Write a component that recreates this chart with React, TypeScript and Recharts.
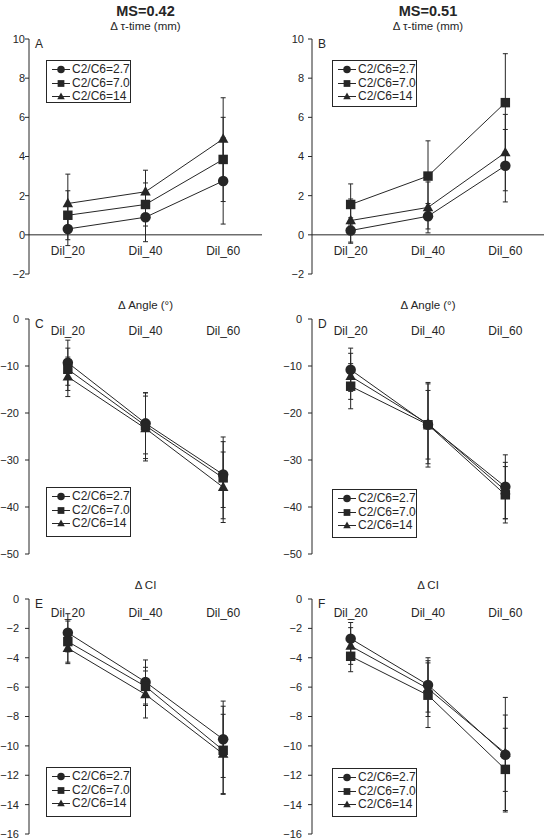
import React from "react";
import {
  ErrorBar,
  Legend,
  Line,
  LineChart,
  ReferenceDot,
  ReferenceLine,
  XAxis,
  YAxis,
} from "recharts";

const categories = ["Dil_20", "Dil_40", "Dil_60"];
const seriesNames = ["C2/C6=2.7", "C2/C6=7.0", "C2/C6=14"];

// each row follows seriesNames, each column follows categories
const tauMs042 = [
  [0.3, 0.9, 2.75],
  [1.0, 1.55, 3.85],
  [1.6, 2.2, 4.9],
];
const tauMs042Err = [
  [0.85, 1.25, 2.2],
  [1.25, 1.1, 2.15],
  [1.5, 1.1, 2.1],
];
const tauMs051 = [
  [0.22, 0.95, 3.53],
  [1.55, 3.0, 6.75],
  [0.73, 1.4, 4.2],
];
const tauMs051Err = [
  [0.65, 0.65, 1.85],
  [1.05, 1.8, 2.5],
  [1.1, 1.3, 1.95],
];
const angleMs042 = [
  [-9.3, -22.2, -33.1],
  [-10.7, -22.7, -33.8],
  [-12.3, -23.3, -35.8],
];
const angleMs042Err = [
  [4.8, 6.5, 7.0],
  [4.5, 7.0, 8.7],
  [4.2, 6.9, 7.5],
];
const angleMs051 = [
  [-10.8, -22.5, -35.7],
  [-14.3, -22.5, -37.4],
  [-12.2, -22.3, -36.5],
];
const angleMs051Err = [
  [4.6, 9.0, 6.8],
  [4.8, 7.3, 6.0],
  [4.9, 8.5, 6.0],
];
const ciMs042 = [
  [-2.3, -5.65, -9.55],
  [-2.9, -5.95, -10.3],
  [-3.35, -6.5, -10.55],
];
const ciMs042Err = [
  [1.3, 1.5, 2.6],
  [1.4, 1.3, 3.0],
  [1.05, 1.6, 2.7],
];
const ciMs051 = [
  [-2.7, -5.85, -10.6],
  [-3.9, -6.55, -11.6],
  [-3.2, -6.1, -10.5],
];
const ciMs051Err = [
  [1.1, 1.85, 3.9],
  [1.05, 2.2, 2.8],
  [1.25, 1.9, 2.6],
];

const tauTicks = [-2, 0, 2, 4, 6, 8, 10];
const angleTicks = [-50, -40, -30, -20, -10, 0];
const ciTicks = [-16, -14, -12, -10, -8, -6, -4, -2, 0];

const ink = "#262626";
const font = '"Liberation Sans", Arial, sans-serif';
const shapes = ["circle", "square", "triangle"];
// triangles first, squares last so they sit on top where points overlap
const drawOrder = [2, 0, 1];

const PANEL_W = 277;
const PANEL_H = 280;
const axisX = [29, 35];
const rightPad = [15, 10];
const legendLeft = [46, 55];

function Marker({ shape, cx, cy, s }: { shape: string; cx: number; cy: number; s: number }) {
  if (shape === "circle") return <circle cx={cx} cy={cy} r={s / 2} fill={ink} />;
  if (shape === "square")
    return <rect x={cx - s * 0.45} y={cy - s * 0.45} width={s * 0.9} height={s * 0.9} fill={ink} />;
  const h = s * 0.9;
  return (
    <polygon
      points={`${cx},${cy - h * 0.6} ${cx - s / 2},${cy + h * 0.4} ${cx + s / 2},${cy + h * 0.4}`}
      fill={ink}
    />
  );
}

const fmt = (v: number) => (v < 0 ? `\u2212${Math.abs(v)}` : `${v}`);

type PanelProps = {
  values: number[][];
  errors: number[][];
  ticks: number[];
  col: number;
  row: number;
  letter: string;
  heading: string;
  title?: string;
  zeroLine: boolean;
  labelOffset: number;
  tickGap: number;
  legendTop: number;
  legendHeight: number;
};

function Panel(p: PanelProps) {
  const rows = categories.map((name, i) => {
    const r: Record<string, number | string> = { name };
    p.values.forEach((v, k) => {
      r[`s${k}`] = v[i];
      r[`e${k}`] = p.errors[k][i];
    });
    return r;
  });
  const left = p.col * PANEL_W;
  const top = p.row * PANEL_H;
  const plotMid = (axisX[p.col] + PANEL_W - rightPad[p.col]) / 2;

  const legendContent = (props: any) => {
    const items = [...(props.payload ?? [])].sort((a, b) =>
      String(a.dataKey).localeCompare(String(b.dataKey))
    );
    return (
      <div
        style={{
          border: `1px solid ${ink}`,
          background: "#fff",
          width: 85,
          height: p.legendHeight,
          boxSizing: "border-box",
          padding: "2px 0 0 5px",
          fontFamily: font,
        }}
      >
        {items.map((it: any) => {
          const k = Number(String(it.dataKey).slice(1));
          return (
            <div key={it.dataKey} style={{ display: "flex", alignItems: "center", height: 13.5 }}>
              <svg width={20} height={13} style={{ display: "block" }}>
                <line x1={0} x2={18} y1={6.5} y2={6.5} stroke={ink} strokeWidth={1} />
                <Marker shape={shapes[k]} cx={9} cy={6.5} s={7.5} />
              </svg>
              <span style={{ fontSize: 12, lineHeight: "13.5px", color: ink }}>{it.value}</span>
            </div>
          );
        })}
      </div>
    );
  };

  return (
    <div style={{ position: "absolute", left, top, width: PANEL_W, height: PANEL_H }}>
      {p.title && (
        <div
          style={{
            position: "absolute",
            left: plotMid - 80,
            width: 160,
            top: 3,
            textAlign: "center",
            fontWeight: "bold",
            fontSize: 14.5,
            lineHeight: "17px",
          }}
        >
          {p.title}
        </div>
      )}
      <div
        style={{
          position: "absolute",
          left: plotMid - 80,
          width: 160,
          top: p.row === 0 ? 19 : 18,
          textAlign: "center",
          fontSize: 11.5,
          lineHeight: "15px",
        }}
      >
        {p.heading}
      </div>
      <div
        style={{
          position: "absolute",
          left: axisX[p.col] + 6,
          top: 37,
          fontSize: 12,
          lineHeight: "14px",
        }}
      >
        {p.letter}
      </div>
      <LineChart
        width={PANEL_W}
        height={PANEL_H}
        data={rows}
        margin={{ top: 39, right: rightPad[p.col], bottom: 6, left: 0 }}
      >
        <XAxis
          dataKey="name"
          scale="band"
          height={0}
          tick={false}
          tickLine={false}
          axisLine={{ stroke: ink }}
        />
        <YAxis
          width={axisX[p.col]}
          domain={[p.ticks[0], p.ticks[p.ticks.length - 1]]}
          ticks={p.ticks}
          interval={0}
          allowDataOverflow
          tickSize={4}
          tickMargin={p.tickGap}
          tickFormatter={fmt}
          tick={{ fontSize: 11, fill: ink }}
          tickLine={{ stroke: ink }}
          axisLine={{ stroke: ink }}
        />
        {p.zeroLine && <ReferenceLine y={0} stroke={ink} strokeWidth={1} />}
        {categories.map((c) => (
          <ReferenceDot
            key={c}
            x={c}
            y={0}
            r={0}
            stroke="none"
            label={{ value: c, position: "bottom", offset: p.labelOffset, fontSize: 12, fill: ink }}
          />
        ))}
        {drawOrder.map((k) => (
          <Line
            key={k}
            dataKey={`s${k}`}
            name={seriesNames[k]}
            stroke={ink}
            strokeWidth={1}
            isAnimationActive={false}
            dot={(d: any) => (
              <Marker key={`${k}-${d.index}`} shape={shapes[k]} cx={d.cx} cy={d.cy} s={10.5} />
            )}
            activeDot={false}
          >
            <ErrorBar dataKey={`e${k}`} width={2.5} stroke={ink} strokeWidth={1} direction="y" />
          </Line>
        ))}
        <Legend
          layout="horizontal"
          verticalAlign="middle"
          align="center"
          content={legendContent}
          wrapperStyle={{ left: legendLeft[p.col], top: p.legendTop, width: 85, height: p.legendHeight }}
        />
      </LineChart>
    </div>
  );
}

export default function App() {
  return (
    <div
      style={{
        position: "absolute",
        left: 0,
        top: 0,
        width: 554,
        height: 840,
        background: "#fff",
        fontFamily: font,
        color: ink,
      }}
    >
      <Panel values={tauMs042} errors={tauMs042Err} ticks={tauTicks} col={0} row={0} letter="A"
        title="MS=0.42" heading={"\u0394 \u03c4-time (mm)"} zeroLine labelOffset={12} tickGap={0}
        legendTop={60} legendHeight={43} />
      <Panel values={tauMs051} errors={tauMs051Err} ticks={tauTicks} col={1} row={0} letter="B"
        title="MS=0.51" heading={"\u0394 \u03c4-time (mm)"} zeroLine labelOffset={12} tickGap={4}
        legendTop={60} legendHeight={47} />
      <Panel values={angleMs042} errors={angleMs042Err} ticks={angleTicks} col={0} row={1} letter="C"
        heading={"\u0394 Angle (\u00b0)"} zeroLine={false} labelOffset={7} tickGap={6}
        legendTop={207} legendHeight={50} />
      <Panel values={angleMs051} errors={angleMs051Err} ticks={angleTicks} col={1} row={1} letter="D"
        heading={"\u0394 Angle (\u00b0)"} zeroLine={false} labelOffset={7} tickGap={6}
        legendTop={209} legendHeight={49} />
      <Panel values={ciMs042} errors={ciMs042Err} ticks={ciTicks} col={0} row={2} letter="E"
        heading={"\u0394 CI"} zeroLine={false} labelOffset={9} tickGap={6}
        legendTop={207} legendHeight={50} />
      <Panel values={ciMs051} errors={ciMs051Err} ticks={ciTicks} col={1} row={2} letter="F"
        heading={"\u0394 CI"} zeroLine={false} labelOffset={9} tickGap={6}
        legendTop={208} legendHeight={49} />
    </div>
  );
}
